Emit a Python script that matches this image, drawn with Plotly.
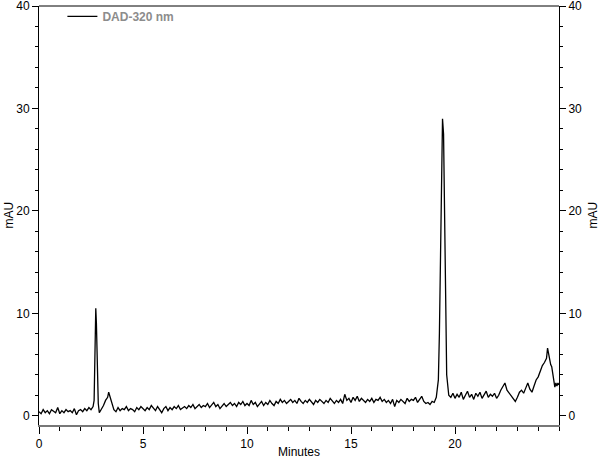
import plotly.graph_objects as go

# chromatogram (minutes, mAU)
minutes = [
    0.0, 0.1, 0.2, 0.3, 0.4, 0.5, 0.6, 0.7, 0.8, 0.9,
    1.0, 1.1, 1.2, 1.3, 1.4, 1.5, 1.6, 1.7, 1.8, 1.9,
    2.0, 2.1, 2.2, 2.3, 2.4, 2.5, 2.6, 2.65, 2.7, 2.73, 2.76, 2.8, 2.85, 2.9,
    3.0, 3.1, 3.2, 3.3, 3.35, 3.4, 3.5, 3.6, 3.7, 3.8, 3.9,
    4.0, 4.1, 4.2, 4.3, 4.4, 4.5, 4.6, 4.7, 4.8, 4.9,
    5.0, 5.1, 5.2, 5.3, 5.4, 5.5, 5.6, 5.7, 5.8, 5.9,
    6.0, 6.1, 6.2, 6.3, 6.4, 6.5, 6.6, 6.7, 6.8, 6.9,
    7.0, 7.1, 7.2, 7.3, 7.4, 7.5, 7.6, 7.7, 7.8, 7.9,
    8.0, 8.1, 8.2, 8.3, 8.4, 8.5, 8.6, 8.7, 8.8, 8.9,
    9.0, 9.1, 9.2, 9.3, 9.4, 9.5, 9.6, 9.7, 9.8, 9.9,
    10.0, 10.1, 10.2, 10.3, 10.4, 10.5, 10.6, 10.7, 10.8, 10.9,
    11.0, 11.1, 11.2, 11.3, 11.4, 11.5, 11.6, 11.7, 11.8, 11.9,
    12.0, 12.1, 12.2, 12.3, 12.4, 12.5, 12.6, 12.7, 12.8, 12.9,
    13.0, 13.1, 13.2, 13.3, 13.4, 13.5, 13.6, 13.7, 13.8, 13.9,
    14.0, 14.1, 14.2, 14.3, 14.4, 14.5, 14.6, 14.7, 14.8, 14.9,
    15.0, 15.1, 15.2, 15.3, 15.4, 15.5, 15.6, 15.7, 15.8, 15.9,
    16.0, 16.1, 16.2, 16.3, 16.4, 16.5, 16.6, 16.7, 16.8, 16.9,
    17.0, 17.1, 17.2, 17.3, 17.4, 17.5, 17.6, 17.7, 17.8, 17.9,
    18.0, 18.1, 18.2, 18.3, 18.4, 18.5, 18.6, 18.7, 18.8, 18.9,
    19.0, 19.1, 19.2, 19.25, 19.3, 19.35, 19.4, 19.45, 19.5, 19.55, 19.6, 19.7, 19.8, 19.9,
    20.0, 20.1, 20.2, 20.3, 20.4, 20.5, 20.6, 20.7, 20.8, 20.9,
    21.0, 21.1, 21.2, 21.3, 21.4, 21.5, 21.6, 21.7, 21.8, 21.9,
    22.0, 22.1, 22.2, 22.3, 22.4, 22.5, 22.6, 22.7, 22.8, 22.9,
    23.0, 23.1, 23.2, 23.3, 23.4, 23.5, 23.6, 23.7, 23.8, 23.9,
    24.0, 24.1, 24.2, 24.3, 24.4, 24.45, 24.5, 24.6, 24.65, 24.7, 24.8, 24.85, 24.9, 24.95, 25.0,
]
mau = [
    0.4, 0.2, 0.6, 0.3, 0.5, 0.2, 0.6, 0.4, 0.3, 0.8,
    0.2, 0.5, 0.3, 0.6, 0.4, 0.5, 0.3, 0.7, 0.1, 0.5,
    0.6, 0.4, 0.7, 0.5, 0.8, 0.6, 0.9, 1.5, 6.8, 10.5, 9.0, 4.0, 1.2, 0.3,
    0.6, 1.0, 1.5, 1.8, 2.3, 2.0, 1.3, 0.6, 0.4, 0.8, 0.5,
    0.7, 0.6, 0.9, 0.5, 0.7, 0.6, 0.4, 0.8, 0.6, 0.9,
    0.7, 0.5, 0.8, 0.6, 1.0, 0.7, 0.5, 0.9, 0.6, 0.3,
    0.7, 0.9, 0.5, 0.8, 0.6, 0.9, 0.7, 1.0, 0.6, 0.8,
    0.9, 0.7, 1.0, 0.8, 1.1, 0.7, 0.9, 1.1, 0.8, 1.0,
    0.9, 1.2, 0.8, 1.0, 1.3, 0.9, 1.1, 0.7, 1.0, 1.2,
    0.9, 1.1, 1.3, 1.0, 1.2, 0.9, 1.3, 1.1, 1.4, 1.0,
    1.2, 1.0, 1.5, 1.1, 1.3, 0.9, 1.2, 1.4, 1.0, 1.3,
    1.1, 1.5, 1.2, 1.0, 1.4, 1.2, 1.6, 1.3, 1.5, 1.2,
    1.4, 1.6, 1.3, 1.5, 1.2, 1.7, 1.4, 1.2, 1.5, 1.3,
    1.6, 1.4, 1.1, 1.5, 1.3, 1.6, 1.4, 1.2, 1.5, 1.3,
    1.7, 1.4, 1.2, 1.5, 1.3, 1.6, 1.2, 2.1, 1.5, 1.7,
    1.3, 1.8, 1.5, 1.9, 1.4, 1.7, 1.5, 1.3, 1.6, 1.4,
    1.7, 1.3, 1.6, 1.5, 1.8, 1.4, 1.6, 1.3, 1.5, 1.2,
    1.6, 0.9, 1.5, 1.3, 1.6, 1.4, 1.2, 1.7, 1.4, 1.6,
    1.5, 1.8, 1.3, 1.6, 1.9, 1.4, 1.2, 1.3, 1.1, 1.4,
    1.3, 1.8, 3.5, 8.0, 16.0, 24.0, 29.0, 27.5, 18.0, 9.0, 4.0, 2.0, 1.8, 2.2,
    1.7, 2.1, 1.8, 2.3, 1.6, 2.0, 2.4, 1.8, 2.1, 1.6,
    2.2, 1.9, 2.3, 1.7, 2.0, 2.4, 1.8, 2.1, 1.9, 2.2,
    1.7, 2.0, 2.5, 2.9, 3.2, 2.5, 2.2, 1.9, 1.6, 1.4,
    1.8, 2.3, 2.5, 2.2, 2.7, 3.2, 2.6, 2.3, 2.9, 3.5,
    3.8, 4.3, 4.9, 5.2, 5.6, 6.6, 6.0, 5.0, 4.8, 4.0, 2.8, 3.2, 2.9, 3.2, 3.0,
]

font = dict(family="Liberation Sans, Arial, sans-serif", size=12, color="black")

fig = go.Figure()
fig.add_trace(go.Scatter(x=minutes, y=mau, mode="lines", name="DAD-320 nm",
                         line=dict(color="black", width=1.3)))
# same trace on the right axis so that it gets drawn with labels
fig.add_trace(go.Scatter(x=minutes, y=mau, mode="lines", yaxis="y2", showlegend=False,
                         hoverinfo="skip", line=dict(color="rgba(0,0,0,0)", width=0)))

yax = dict(range=[-0.9, 40.0], tickvals=[0, 10, 20, 30, 40], ticks="outside", ticklen=6,
           tickcolor="black", showline=True, linecolor="black", linewidth=1,
           showgrid=False, zeroline=False, tickfont=font, automargin=False,
           ticklabeloverflow="allow",
           minor=dict(dtick=2, ticks="outside", ticklen=3, tickcolor="black"))

fig.update_layout(
    width=600, height=459,
    margin=dict(l=39, r=41, t=6, b=34, autoexpand=False),
    plot_bgcolor="white", paper_bgcolor="white",
    font=font,
    showlegend=True,
    legend=dict(x=0.045, y=1.01, xanchor="left", yanchor="top", bgcolor="rgba(0,0,0,0)",
                font=dict(family="Liberation Sans, Arial, sans-serif", size=12,
                          color="#8c8c8c", weight="bold")),
    xaxis=dict(range=[0, 25], tickvals=[0, 5, 10, 15, 20], ticks="outside", ticklen=7,
               tickcolor="black", showline=True, linecolor="#777777", linewidth=2,
               showgrid=False, zeroline=False, tickfont=font, automargin=False,
               ticklabeloverflow="allow",
               minor=dict(dtick=1, ticks="outside", ticklen=4, tickcolor="black")),
    yaxis=dict(**yax, side="left"),
    yaxis2=dict(**yax, side="right", overlaying="y", matches="y"),
    shapes=[dict(type="line", xref="paper", yref="paper", x0=0, x1=1, y0=1, y1=1,
                 line=dict(color="black", width=1))],
    annotations=[
        dict(text="Minutes", xref="paper", yref="paper", x=0.5, y=0, yshift=-27,
             xanchor="center", yanchor="middle", showarrow=False, font=font),
        dict(text="mAU", xref="paper", yref="paper", x=0, y=0.5, xshift=-31,
             xanchor="center", yanchor="middle", textangle=-90, showarrow=False, font=font),
        dict(text="mAU", xref="paper", yref="paper", x=1, y=0.5, xshift=33,
             xanchor="center", yanchor="middle", textangle=-90, showarrow=False, font=font),
    ],
)

# the page's default body margin would shift the fixed-size figure
fig.write_html("out.html", config={"displayModeBar": False},
               post_script="document.body.style.margin='0';")
